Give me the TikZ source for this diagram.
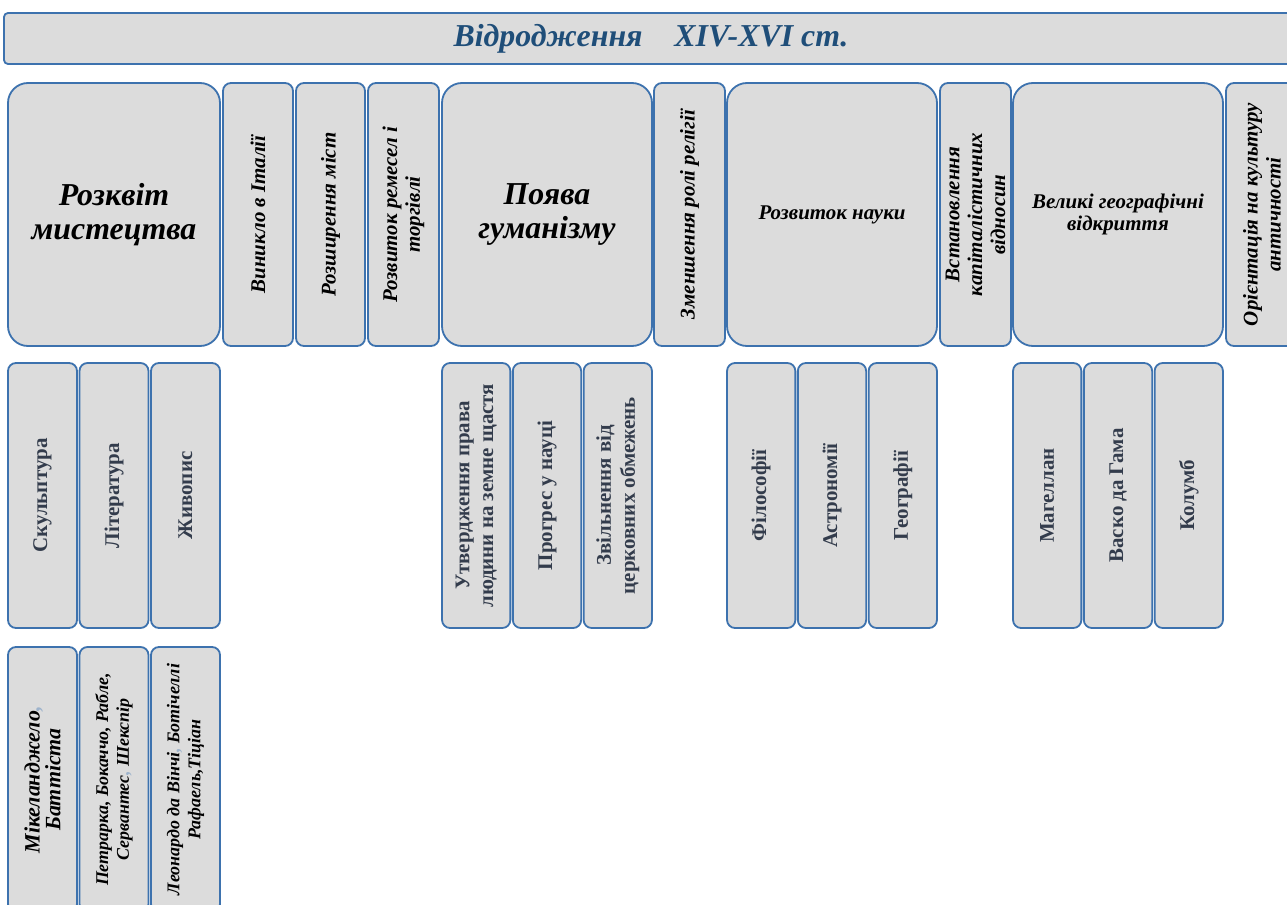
\documentclass[tikz,border=0pt]{standalone}
\usepackage{fontspec}
\setmainfont{Liberation Serif}
\definecolor{boxfill}{HTML}{DCDCDC}
\definecolor{bordercol}{HTML}{3D72AE}
\definecolor{titlecol}{HTML}{1F4E79}
\definecolor{slatecol}{HTML}{333C4C}
\definecolor{commacol}{HTML}{9DB3CC}
\tikzset{
  cellbase/.style={draw=bordercol, line width=1.8bp, fill=boxfill, inner sep=2bp, align=center},
  titlebox/.style={cellbase, rounded corners=4bp, text=titlecol,
     font=\fontsize{32}{34}\selectfont\bfseries\itshape},
  bigcell/.style={cellbase, rounded corners=20bp, minimum width=#1, minimum height=263bp},
  smallcell/.style={cellbase, rounded corners=8bp, rotate=90, minimum width=263bp, minimum height=#1,
     font=\fontsize{21}{23}\selectfont\bfseries\itshape},
  subcell/.style={cellbase, rounded corners=8bp, rotate=90, minimum width=265bp, minimum height=#1,
     text=slatecol, font=\fontsize{21}{24}\selectfont\bfseries},
  namecell/.style={cellbase, rounded corners=8bp, rotate=90, minimum width=265bp, minimum height=69bp,
     font=\fontsize{#1}{21}\selectfont\bfseries\itshape},
  hugetxt/.style={font=\fontsize{32}{34}\selectfont\bfseries\itshape},
  midtxt/.style={font=\fontsize{21}{22}\selectfont\bfseries\itshape},
}
\begin{document}
\begin{tikzpicture}[x=1bp,y=-1bp]
\useasboundingbox (0,0) rectangle (1287,905);
\fill[white] (0,0) rectangle (1287,905);

% title
\node[titlebox, minimum width=1294bp, minimum height=51bp] (title) at (651,38.5)
  {Відродження\hspace{1em}XIV-XVI ст.};

% row 1
\node[bigcell=212bp, hugetxt] (art) at (114,214.5) {Розквіт\\мистецтва};
\node[smallcell=70bp] (italy) at (258,214.5) {Виникло в Італії};
\node[smallcell=69bp] (cities) at (330.5,214.5) {Розширення міст};
\node[smallcell=71bp] (crafts) at (403.5,214.5) {Розвиток ремесел і\\торгівлі};
\node[bigcell=210bp, hugetxt] (human) at (547,214.5) {Поява\\гуманізму};
\node[smallcell=71bp] (relig) at (689.5,214.5) {Зменшення ролі релігії};
\node[bigcell=210bp, midtxt] (science) at (832,214.5) {Розвиток науки};
\node[smallcell=71bp] (capit) at (975.5,214.5) {Встановлення\\капіталістичних\\відносин};
\node[bigcell=210bp, midtxt] (geo) at (1118,214.5) {Великі географічні\\відкриття};
\node[smallcell=72bp] (antiq) at (1262,214.5) {Орієнтація на культуру\\античності};

% row 2
\node[subcell=69bp] (sculpt) at (42.5,495.5) {Скульптура};
\node[subcell=69bp] (lit) at (114,495.5) {Література};
\node[subcell=69bp] (paint) at (185.5,495.5) {Живопис};

\node[subcell=68.3bp] (right) at (476.2,495.5) {Утвердження права\\людини на земне щастя};
\node[subcell=68.3bp] (progr) at (547,495.5) {Прогрес у науці};
\node[subcell=68.3bp] (free) at (617.8,495.5) {Звільнення від\\церковних обмежень};

\node[subcell=68.3bp] (phil) at (761.2,495.5) {Філософії};
\node[subcell=68.3bp] (astro) at (832,495.5) {Астрономії};
\node[subcell=68.3bp] (geogr) at (902.8,495.5) {Географії};

\node[subcell=68.3bp] (magel) at (1047.2,495.5) {Магеллан};
\node[subcell=68.3bp] (gama) at (1118,495.5) {Васко да Гама};
\node[subcell=68.3bp] (colum) at (1188.8,495.5) {Колумб};

% row 3
\node[namecell=22] (mich) at (42.5,779.5) {\fontsize{22}{23}\selectfont Мікеланджело{\color{commacol},}\\Баттіста};
\node[namecell=18] (petr) at (114,779.5) {Петрарка, Бокаччо, Рабле,\\Сервантес{\color{commacol},} Шекспір};
\node[namecell=18] (leon) at (185.5,779.5) {Леонардо да Вінчі{\color{commacol},} Ботічеллі\\Рафаель,Тіціан};
\end{tikzpicture}
\end{document}
